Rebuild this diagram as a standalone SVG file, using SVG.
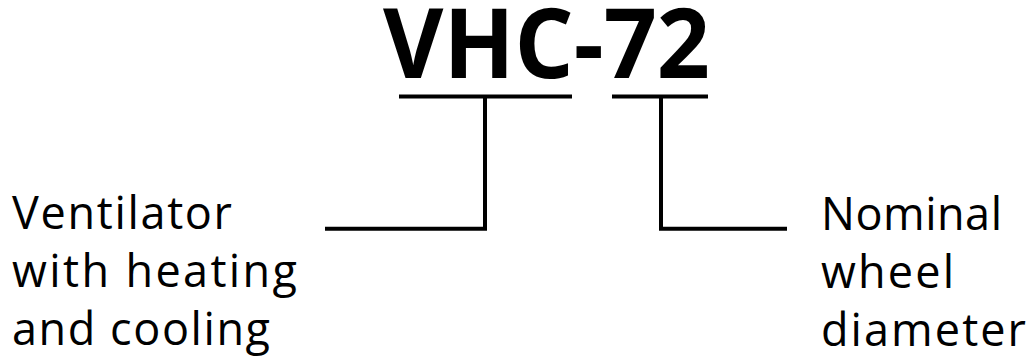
<svg xmlns="http://www.w3.org/2000/svg" width="1027" height="356" viewBox="0 0 1027 356">
<style>
.t{font-family:"Open Sans","Noto Sans",sans-serif;fill:#000}
.lbl{font-size:45px}
.ttl{font-size:96px;font-weight:bold}
.c{stroke:#000;stroke-width:4;fill:none}
</style>
<rect width="1027" height="356" fill="#fff"/>
<g id="title"><text class="t ttl" x="383" y="78" textLength="327" lengthAdjust="spacingAndGlyphs">VHC-72</text></g>
<g id="left-label"><text class="t lbl"><tspan x="12" y="229" textLength="220">Ventilator</tspan><tspan x="12" y="287" textLength="285">with heating</tspan><tspan x="12" y="345" textLength="258">and cooling</tspan></text></g>
<g id="right-label"><text class="t lbl"><tspan x="821" y="230" textLength="181">Nominal</tspan><tspan x="821" y="288" textLength="133">wheel</tspan><tspan x="821" y="346" textLength="205">diameter</tspan></text></g>
<g id="connectors">
<line class="c" x1="399" y1="96.5" x2="572" y2="96.5"/>
<line class="c" x1="612" y1="96.5" x2="708" y2="96.5"/>
<polyline class="c" points="485,96.5 485,228.7 325,228.7"/>
<polyline class="c" points="661,96.5 661,228.7 787,228.7"/>
</g>
</svg>
